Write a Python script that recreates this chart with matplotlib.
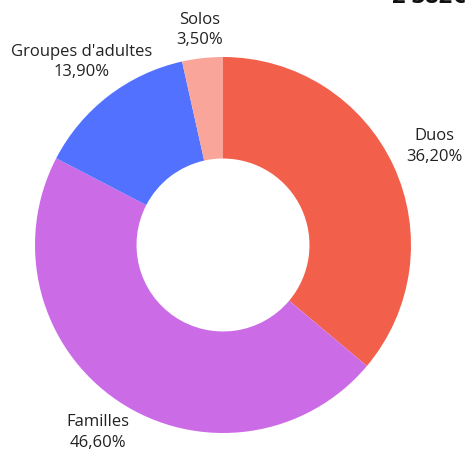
import numpy as np
import matplotlib
matplotlib.use("Agg")
import matplotlib.pyplot as plt

plt.rcParams["font.family"] = ["Open Sans", "DejaVu Sans"]

categories = ["Duos", "Familles", "Groupes d'adultes", "Solos"]
shares = [36.2, 46.6, 13.9, 3.5]
colors = ["#F25F4B", "#CB6CE6", "#5271FF", "#F9A59A"]
label_radius = [1.24, 1.20, 1.23, 1.15]
total_label = "2 382€"

W, H = 466, 451
R_PX = 188
CX, CY = 223, 245

fig = plt.figure(figsize=(W / 100, H / 100), dpi=100)
ax = fig.add_axes([0, 0, 1, 1])

wedges, _ = ax.pie(shares, colors=colors, startangle=90, counterclock=False,
                   radius=1.0, wedgeprops=dict(width=0.54, linewidth=0))

ax.set_xlim(-CX / R_PX, (W - CX) / R_PX)
ax.set_ylim(-(H - CY) / R_PX, CY / R_PX)
ax.set_aspect("equal")
ax.axis("off")

for w, name, val, rr in zip(wedges, categories, shares, label_radius):
    mid = np.deg2rad((w.theta1 + w.theta2) / 2)
    txt = f"{name}\n{val:.2f}%".replace(".", ",")
    ax.text(rr * np.cos(mid), rr * np.sin(mid), txt, ha="center", va="center",
            fontsize=12, color="#222222", linespacing=1.35)

fig.text(1.0, 1.0 - 3.0 / H, total_label, ha="right", va="baseline",
         fontsize=17, fontweight="bold", color="#111111")

fig.savefig("out.png", dpi=100)
